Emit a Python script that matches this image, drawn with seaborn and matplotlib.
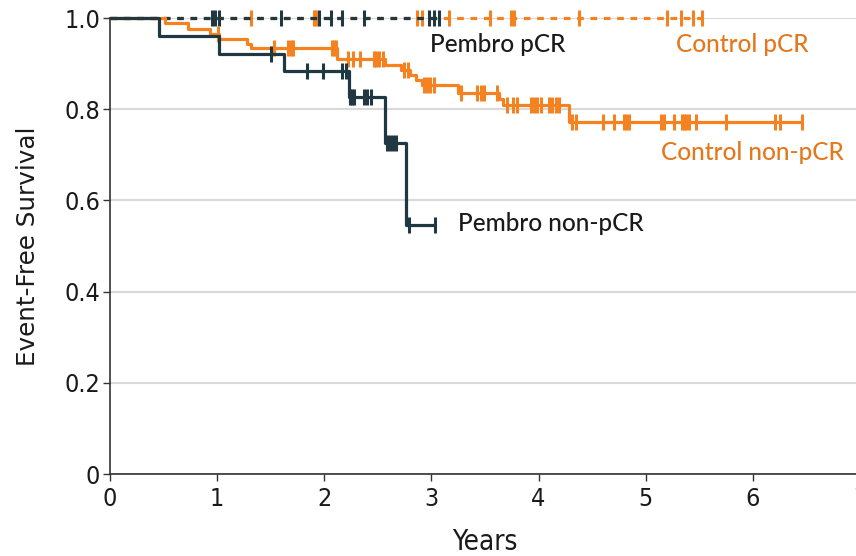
import numpy as np
import pandas as pd
import matplotlib
matplotlib.use("Agg")
import matplotlib.pyplot as plt
import seaborn as sns
from matplotlib import font_manager

# ---- Kaplan-Meier data (time in years, event-free survival) ----
pembro_nonpcr_times = [0.0, 0.46, 1.02, 1.62, 2.23, 2.57, 2.76]
pembro_nonpcr_surv = [1.0, 0.960, 0.922, 0.884, 0.827, 0.725, 0.545]
pembro_nonpcr_censor = [1.50, 1.84, 1.99, 2.17, 2.20, 2.24, 2.26, 2.28,
                        2.37, 2.40, 2.44, 2.59, 2.61, 2.64, 2.67, 2.79, 3.03]

pembro_pcr_times = [0.0]
pembro_pcr_surv = [1.0]
pembro_pcr_censor = [0.95, 0.98, 1.02, 1.60, 1.95, 2.06, 2.17, 2.37,
                     2.98, 3.02, 3.07]

control_pcr_times = [0.0]
control_pcr_surv = [1.0]
control_pcr_censor = [1.32, 1.90, 1.92, 2.87, 2.91, 3.16, 3.55, 3.74, 3.77,
                      4.38, 5.20, 5.33, 5.44, 5.53]

control_nonpcr_times = [0.0, 0.51, 0.73, 0.93, 1.02, 1.28, 1.32, 2.12, 2.57,
                        2.72, 2.80, 2.86, 2.91, 3.25, 3.63, 3.67, 4.28]
control_nonpcr_surv = [1.0, 0.988, 0.976, 0.965, 0.955, 0.944, 0.934, 0.911,
                       0.897, 0.886, 0.875, 0.864, 0.853, 0.836, 0.822, 0.809,
                       0.773]
control_nonpcr_censor = [1.01, 1.53, 1.66, 1.69, 1.71, 2.07, 2.09, 2.11, 2.22,
                         2.27, 2.33, 2.46, 2.48, 2.51, 2.55, 2.74, 2.78, 2.93,
                         2.96, 2.99, 3.02, 3.28, 3.43, 3.46, 3.49, 3.61, 3.71,
                         3.76, 3.80, 3.93, 3.96, 3.99, 4.02, 4.10, 4.13, 4.16,
                         4.19, 4.31, 4.35, 4.60, 4.70, 4.80, 4.82, 4.84, 5.14,
                         5.17, 5.26, 5.34, 5.36, 5.38, 5.40, 5.47, 5.75, 6.21,
                         6.25, 6.46]

x_ticks = [0, 1, 2, 3, 4, 5, 6, 7]
y_ticks = [0, 0.2, 0.4, 0.6, 0.8, 1.0]
y_tick_labels = ["0", "0.2", "0.4", "0.6", "0.8", "1.0"]

DARK = "#1f3842"
ORANGE = "#f58220"
ORANGE_TEXT = "#e5781c"


def pick_font(*names):
    available = {f.name for f in font_manager.fontManager.ttflist}
    for n in names:
        if n in available:
            return n
    return "DejaVu Sans"


sns.set_theme(style="white")
plt.rcParams["lines.scale_dashes"] = False
TICK_FONT = pick_font("Liberation Sans Narrow", "DejaVu Sans")
LABEL_FONT = pick_font("Lato", "DejaVu Sans")
plt.rcParams["font.family"] = ["DejaVu Sans"]


def curve_frame(times, surv, censor):
    end = max(censor[-1], times[-1])
    return pd.DataFrame({"t": list(times) + [end],
                         "s": list(surv) + [surv[-1]]})


def censor_frame(times, surv, censor):
    idx = np.searchsorted(np.asarray(times), np.asarray(censor), side="right") - 1
    return pd.DataFrame({"t": censor, "s": np.asarray(surv)[idx]})


fig = plt.figure(figsize=(8.56, 5.56), dpi=100)
ax = fig.add_axes([110 / 856, 82 / 556, 750 / 856, 456 / 556])

LW = 2.3
DASH = (0, (4.8, 4.8))

groups = [
    (control_pcr_times, control_pcr_surv, control_pcr_censor, ORANGE, DASH),
    (pembro_pcr_times, pembro_pcr_surv, pembro_pcr_censor, DARK, DASH),
    (control_nonpcr_times, control_nonpcr_surv, control_nonpcr_censor, ORANGE, "-"),
    (pembro_nonpcr_times, pembro_nonpcr_surv, pembro_nonpcr_censor, DARK, "-"),
]

for i, (tm, sv, cz, col, ls) in enumerate(groups):
    cf = curve_frame(tm, sv, cz)
    sns.lineplot(data=cf, x="t", y="s", ax=ax, color=col, linewidth=LW,
                 linestyle=ls, drawstyle="steps-post", estimator=None,
                 sort=False, clip_on=False, zorder=3 + i)
    mf = censor_frame(tm, sv, cz)
    sns.scatterplot(data=mf, x="t", y="s", ax=ax, color=col, marker="|",
                    s=125, linewidth=2.2, clip_on=False, zorder=3 + i,
                    legend=False)

# curve labels
label_kw = dict(fontsize=17.6, family=LABEL_FONT, weight="medium",
                va="center", ha="left")
ax.text(2.99, 0.941, "Pembro pCR", color="#1a1a1a", **label_kw)
ax.text(5.28, 0.941, "Control pCR", color=ORANGE_TEXT, **label_kw)
ax.text(5.14, 0.706, "Control non-pCR", color=ORANGE_TEXT, **label_kw)
ax.text(3.25, 0.55, "Pembro non-pCR", color="#1a1a1a", **label_kw)

ax.set_xlim(0, 7)
ax.set_ylim(0, 1)
ax.set_xticks(x_ticks)
ax.set_xticklabels([str(v) for v in x_ticks])
ax.set_yticks(y_ticks)
ax.set_yticklabels(y_tick_labels)
for lab in ax.get_xticklabels() + ax.get_yticklabels():
    lab.set_family(TICK_FONT)
    lab.set_fontstretch("condensed")
    lab.set_fontsize(18)
    lab.set_color("#1a1a1a")

ax.yaxis.grid(True, color="#d9d9d9", linewidth=1.5, zorder=0)
ax.xaxis.grid(False)
ax.set_axisbelow(True)
sns.despine(ax=ax, top=True, right=True)
for sp in ("left", "bottom"):
    ax.spines[sp].set_color("#333333")
    ax.spines[sp].set_linewidth(1.2)
ax.tick_params(axis="both", which="major", direction="out", length=5,
               width=1.0, color="#333333", left=True, bottom=True)
ax.tick_params(axis="y", pad=2)
ax.tick_params(axis="x", pad=4)

ax.set_xlabel("Years", family=TICK_FONT, fontstretch="condensed",
              fontsize=20, color="#1a1a1a")
ax.set_ylabel("Event-Free Survival", family="DejaVu Sans", fontsize=17.7,
              color="#1a1a1a")
ax.xaxis.set_label_coords(0.5, -0.118)
ax.yaxis.set_label_coords(-0.093, 0.5)
ax.xaxis.label.set_va("top")

fig.savefig("out.png", dpi=100)
